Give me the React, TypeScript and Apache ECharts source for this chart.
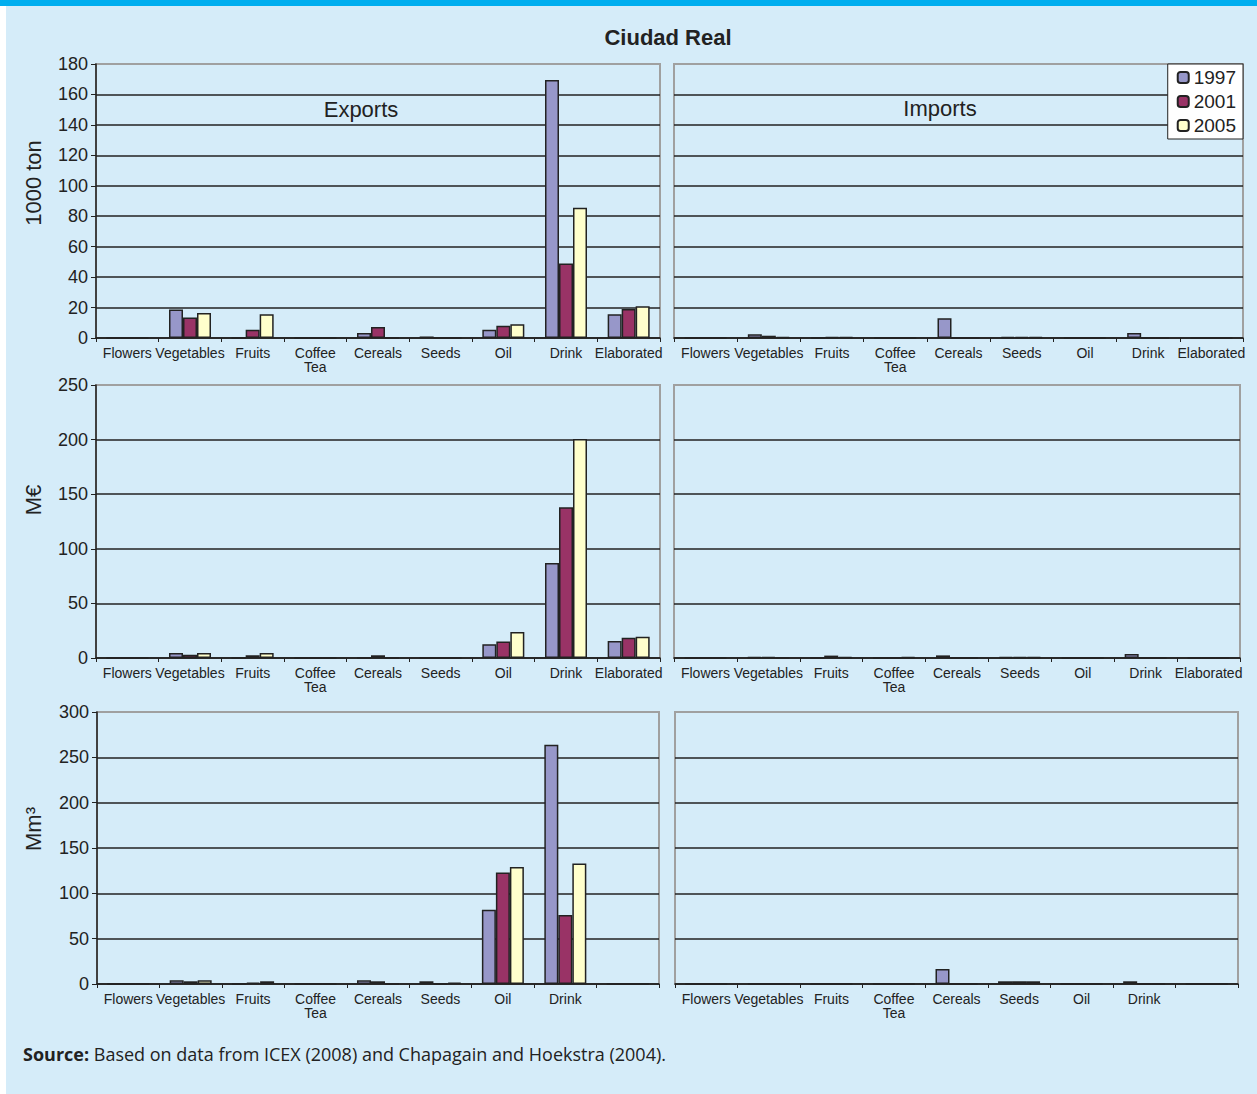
import React, { useEffect, useRef } from "react";
import * as echarts from "echarts";

const categories = ["Flowers", "Vegetables", "Fruits", "Coffee\nTea", "Cereals", "Seeds", "Oil", "Drink", "Elaborated"];
const categoriesWater = ["Flowers", "Vegetables", "Fruits", "Coffee\nTea", "Cereals", "Seeds", "Oil", "Drink", ""];
const years = ["1997", "2001", "2005"];

// Exports / Imports, 1000 ton
const expTon1997 = [0, 18.7, 0, 0, 3.3, 1, 5.5, 169.5, 15.6];
const expTon2001 = [0, 13.4, 5.5, 0, 7.3, 0, 8.1, 49, 19.1];
const expTon2005 = [0, 16.5, 15.6, 0, 0, 0, 9, 85.5, 20.9];
const impTon1997 = [0, 2.4, 0, 0, 13, 0.8, 0, 3.3, 0];
const impTon2001 = [0, 1.5, 0.6, 0, 0, 0.8, 0, 0, 0];
const impTon2005 = [0, 0.8, 0.6, 0, 0, 0.8, 0, 0, 0];

// M€
const expEur1997 = [0, 4.5, 0, 0, 0, 0, 12.7, 87, 15.5];
const expEur2001 = [0, 3, 2.5, 0, 2.5, 0, 15.2, 138, 18.5];
const expEur2005 = [0, 4.5, 4.5, 0, 0, 0, 23.9, 200.5, 19.4];
const impEur1997 = [0, 0.8, 0, 0, 2.4, 0.8, 0, 3.7, 0];
const impEur2001 = [0, 0.8, 2.2, 0, 0, 0.8, 0, 0, 0];
const impEur2005 = [0, 0, 1, 0.8, 0, 0.8, 0, 0, 0];

// Mm3
const expM1997 = [0, 4, 0, 0, 4, 3, 82, 264, 0];
const expM2001 = [0, 3, 1.5, 0, 3, 0, 123, 76, 0];
const expM2005 = [0, 4, 3, 0, 0, 1.5, 129, 133, 0];
const impM1997 = [0, 0, 0, 0, 16.5, 3, 0, 3, 0];
const impM2001 = [0, 0, 0, 0, 0, 3, 0, 0, 0];
const impM2005 = [0, 0, 0, 0, 0, 3, 0, 0, 0];

const yTicks1 = { max: 180, interval: 20, name: "1000 ton" };
const yTicks2 = { max: 250, interval: 50, name: "M€" };
const yTicks3 = { max: 300, interval: 50, name: "Mm³" };

const colors = ["#9797c9", "#993366", "#ffffcc"];
const FONT = "Arial";

export default function App() {
  const ref = useRef<HTMLDivElement>(null);
  useEffect(() => {
    if (!ref.current) return;
    const chart = echarts.init(ref.current, null, { renderer: "svg" });

    const grids = [
      { left: 96, top: 64, width: 564, height: 274 },
      { left: 674, top: 64, width: 569, height: 274 },
      { left: 96, top: 385, width: 564, height: 273 },
      { left: 674, top: 385, width: 566, height: 273 },
      { left: 97, top: 712, width: 562, height: 272 },
      { left: 675, top: 712, width: 563, height: 272 },
    ].map((g) => ({ ...g, show: true, borderColor: "#a0a0a0", borderWidth: 2, backgroundColor: "transparent" }));

    const scales = [yTicks1, yTicks1, yTicks2, yTicks2, yTicks3, yTicks3];
    const cats = [categories, categories, categories, categories, categoriesWater, categoriesWater];
    const data = [
      [expTon1997, expTon2001, expTon2005],
      [impTon1997, impTon2001, impTon2005],
      [expEur1997, expEur2001, expEur2005],
      [impEur1997, impEur2001, impEur2005],
      [expM1997, expM2001, expM2005],
      [impM1997, impM2001, impM2005],
    ];

    const xAxis = cats.map((c, i) => ({
      type: "category",
      gridIndex: i,
      data: c,
      axisLine: { show: true, lineStyle: { color: "#222", width: 1.5 } },
      axisTick: { show: true, length: 4, interval: 0, lineStyle: { color: "#222" } },
      axisLabel: { interval: 0, fontSize: 14, fontFamily: FONT, color: "#222", margin: 8, lineHeight: 14 },
    }));

    const yAxis = scales.map((s, i) => {
      const isLeft = i % 2 === 0;
      const n = s.max / s.interval + 1;
      const lineColors = Array.from({ length: n }, (_, k) => (k === n - 1 ? "#a0a0a0" : "#222"));
      return {
        type: "value",
        gridIndex: i,
        min: 0,
        max: s.max,
        interval: s.interval,
        axisLine: { show: isLeft, lineStyle: { color: "#222", width: 1.5 } },
        axisTick: { show: isLeft, length: 5, lineStyle: { color: "#222" } },
        axisLabel: { show: isLeft, fontSize: 18, fontFamily: FONT, color: "#222", margin: 8, padding: [5, 0, 0, 0] },
        splitLine: { show: true, lineStyle: { color: lineColors, width: 1.5 } },
      };
    });

    const series: any[] = [];
    data.forEach((set, gi) => {
      set.forEach((vals, yi) => {
        series.push({
          type: "bar",
          name: years[yi],
          xAxisIndex: gi,
          yAxisIndex: gi,
          data: vals,
          barWidth: 14,
          barGap: "0%",
          itemStyle: { color: colors[yi], borderColor: "#222", borderWidth: 1.5 },
        });
      });
    });

    const axisNames = [
      { text: yTicks1.name, y: 183 },
      { text: yTicks2.name, y: 500 },
      { text: yTicks3.name, y: 829 },
    ].map((n) => ({
      type: "text",
      x: 33,
      y: n.y,
      rotation: Math.PI / 2,
      style: { text: n.text, fontSize: 22, fontFamily: FONT, fill: "#222", textAlign: "center", textVerticalAlign: "middle" },
    }));

    chart.setOption({
      animation: false,
      backgroundColor: "#d5ecf9",
      grid: grids,
      xAxis,
      yAxis,
      series,
      legend: {
        data: years,
        orient: "vertical",
        right: 14,
        top: 64,
        backgroundColor: "#ffffff",
        borderColor: "#222",
        borderWidth: 1,
        padding: [4, 7, 4, 9],
        itemGap: 5,
        itemWidth: 11,
        itemHeight: 11,
        textStyle: { fontSize: 19, fontFamily: FONT, color: "#222" },
      },
      graphic: [
        { type: "rect", shape: { x: 0, y: 0, width: 6, height: 1094 }, style: { fill: "#ffffff" } },
        { type: "rect", shape: { x: 0, y: 0, width: 1257, height: 6 }, style: { fill: "#00aeef" } },
        {
          type: "text",
          x: 668,
          y: 37,
          style: { text: "Ciudad Real", fontSize: 22, fontWeight: "bold", fontFamily: FONT, fill: "#222", textAlign: "center", textVerticalAlign: "middle" },
        },
        {
          type: "text",
          x: 361,
          y: 109,
          style: { text: "Exports", fontSize: 22, fontFamily: FONT, fill: "#222", textAlign: "center", textVerticalAlign: "middle" },
        },
        {
          type: "text",
          x: 940,
          y: 108,
          style: { text: "Imports", fontSize: 22, fontFamily: FONT, fill: "#222", textAlign: "center", textVerticalAlign: "middle" },
        },
        ...axisNames,
        {
          type: "text",
          x: 23,
          y: 1054,
          style: {
            text: "{b|Source:} Based on data from ICEX (2008) and Chapagain and Hoekstra (2004).",
            fontSize: 18,
            fontFamily: "'Open Sans'",
            fill: "#222",
            textVerticalAlign: "middle",
            rich: { b: { fontWeight: "bold", fontSize: 18, fontFamily: "'Open Sans'", fill: "#222" } },
          },
        },
      ],
    });
    return () => chart.dispose();
  }, []);
  return <div ref={ref} style={{ position: "absolute", left: 0, top: 0, width: 1257, height: 1094 }} />;
}
